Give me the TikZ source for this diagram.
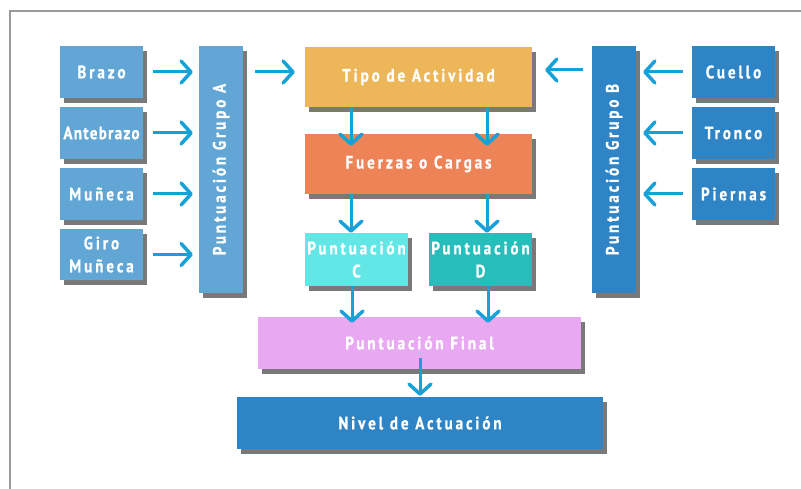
\documentclass[tikz,border=0pt]{standalone}
\usepackage{fontspec}
\setmainfont{PT Sans}
\newfontfamily\labfont[LetterSpace=16,FakeStretch=0.84,FakeBold=0.8]{PT Sans Bold}
\newfontfamily\tightfont[LetterSpace=7,FakeStretch=0.84,FakeBold=0.8]{PT Sans Bold}
\usetikzlibrary{arrows.meta,shadows}
\definecolor{lblue}{HTML}{62A6D6}
\definecolor{dblue}{HTML}{2E84C4}
\definecolor{gold}{HTML}{EDB759}
\definecolor{coral}{HTML}{EE8358}
\definecolor{lcyan}{HTML}{62E6E6}
\definecolor{teal2}{HTML}{26BDBA}
\definecolor{violet2}{HTML}{E8A8F2}
\definecolor{arrc}{HTML}{16A2D8}
\definecolor{framec}{HTML}{9A9A9A}
\begin{document}
\begin{tikzpicture}[x=1pt,y=-1pt,
  box/.style={inner sep=0pt, align=center, text=white,
    font=\labfont\fontsize{18}{23}\selectfont,
    drop shadow={shadow xshift=4pt, shadow yshift=-5pt, fill=black!75, opacity=0.7}},
  tight/.style={font=\tightfont\fontsize{18}{23}\selectfont},
  arr/.style={draw=arrc, line width=3pt,
    -{Straight Barb[length=10pt,width=22pt,line width=3.5pt,round]}}
]
\useasboundingbox (0,0) rectangle (801,489);
\draw[framec, line width=1.3pt] (801,11) -- (10,11) -- (10,489);

% left column
\node[box, fill=lblue, minimum width=83pt, minimum height=52pt] (brazo) at (101.5,72) {Brazo};
\node[box, tight, fill=lblue, minimum width=83pt, minimum height=52pt] (ante) at (101.5,133) {Antebrazo};
\node[box, fill=lblue, minimum width=83pt, minimum height=52pt] (mun) at (101.5,194) {Muñeca};
\node[box, fill=lblue, minimum width=83pt, minimum height=51pt] (giro) at (101.5,254.5) {Giro\\Muñeca};
\node[box, fill=lblue, minimum width=247pt, minimum height=44pt, rotate=90] (ga) at (221,169.5) {Puntuación Grupo A};

% right column
\node[box, fill=dblue, minimum width=83pt, minimum height=52pt] (cue) at (733.5,72) {Cuello};
\node[box, fill=dblue, minimum width=83pt, minimum height=52pt] (tro) at (733.5,133) {Tronco};
\node[box, fill=dblue, minimum width=83pt, minimum height=52pt] (pie) at (733.5,194) {Piernas};
\node[box, fill=dblue, minimum width=247pt, minimum height=44pt, rotate=90] (gb) at (614,169.5) {Puntuación Grupo B};

% centre
\node[box, fill=gold, minimum width=227pt, minimum height=60pt] (tipo) at (418.5,77) {Tipo de Actividad};
\node[box, fill=coral, minimum width=227pt, minimum height=60pt] (fue) at (418.5,164) {Fuerzas o Cargas};
\node[box, fill=lcyan, minimum width=103pt, minimum height=53pt] (pc) at (356.5,259.5) {Puntuación\\C};
\node[box, fill=teal2, minimum width=103pt, minimum height=53pt] (pd) at (480.5,259.5) {Puntuación\\D};
\node[box, fill=violet2, minimum width=323pt, minimum height=52pt] (fin) at (419.5,343) {Puntuación Final};
\node[box, fill=dblue, minimum width=366pt, minimum height=52pt] (niv) at (420,423) {Nivel de Actuación};

% arrows left (rotated nodes: north = west side, south = east side)
\draw[arr, shorten <=10pt, shorten >=6pt] (brazo.east) -- (ga.north |- brazo.east);
\draw[arr, shorten <=10pt, shorten >=6pt] (ante.east) -- (ga.north |- ante.east);
\draw[arr, shorten <=10pt, shorten >=6pt] (mun.east) -- (ga.north |- mun.east);
\draw[arr, shorten <=10pt, shorten >=6pt] (giro.east) -- (ga.north |- giro.east);
\draw[arr, shorten <=12pt, shorten >=10pt] (ga.south |- brazo.east) -- (tipo.west |- brazo.east);

% arrows right
\draw[arr, shorten <=9pt, shorten >=7pt] (cue.west) -- (gb.south |- cue.west);
\draw[arr, shorten <=9pt, shorten >=7pt] (tro.west) -- (gb.south |- tro.west);
\draw[arr, shorten <=9pt, shorten >=7pt] (pie.west) -- (gb.south |- pie.west);
\draw[arr, shorten <=9pt, shorten >=13pt] (gb.north |- 0,70) -- (tipo.east |- 0,70);

% vertical arrows
\draw[arr, shorten >=-12pt] (tipo.south -| 351,0) -- (fue.north -| 351,0);
\draw[arr, shorten >=-12pt] (tipo.south -| 487,0) -- (fue.north -| 487,0);
\draw[arr] (fue.south -| 351,0) -- (pc.north -| 351,0);
\draw[arr] (fue.south -| 487,0) -- (pd.north -| 487,0);
\draw[arr, shorten >=-6pt] (pc.south -| 352,0) -- (fin.north -| 352,0);
\draw[arr, shorten >=-6pt] (pd.south -| 488,0) -- (fin.north -| 488,0);
\draw[arr, shorten <=-11pt, shorten >=1pt] (fin.south -| 420,0) -- (niv.north -| 420,0);
\end{tikzpicture}
\end{document}
